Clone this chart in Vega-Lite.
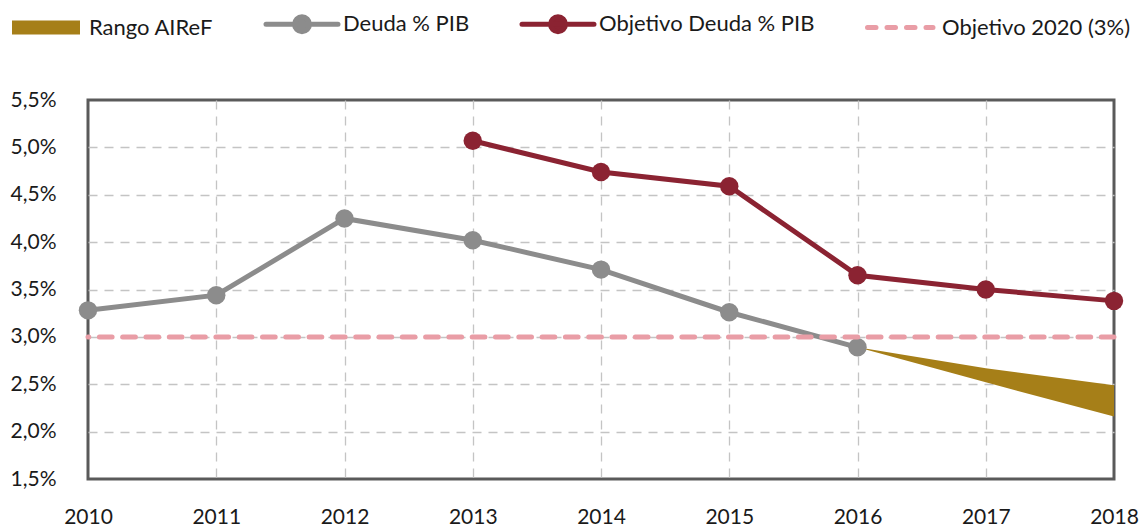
{
  "$schema": "https://vega.github.io/schema/vega-lite/v6.json",
  "width": 1026,
  "height": 379,
  "autosize": {"type": "none"},
  "padding": {"left": 88, "top": 100, "right": 27, "bottom": 48},
  "background": "white",
  "config": {
    "font": "Lato",
    "view": {"stroke": "#5a5a5a", "strokeWidth": 3},
    "axis": {
      "labelFont": "Lato",
      "labelFontSize": 21,
      "labelColor": "#1a1a1a",
      "ticks": false,
      "domain": false,
      "grid": true,
      "gridColor": "#c4c4c4",
      "gridDash": [9, 7],
      "gridWidth": 1.3,
      "title": null
    }
  },
  "datasets": {
    "rango": [
      {"year": 2016, "serie": "Rango AIReF", "low": 2.89, "high": 2.89},
      {"year": 2017, "serie": "Rango AIReF", "low": 2.52, "high": 2.67},
      {"year": 2018, "serie": "Rango AIReF", "low": 2.16, "high": 2.49}
    ],
    "lines": [
      {"year": 2010, "serie": "Deuda % PIB", "value": 3.28},
      {"year": 2011, "serie": "Deuda % PIB", "value": 3.44},
      {"year": 2012, "serie": "Deuda % PIB", "value": 4.25},
      {"year": 2013, "serie": "Deuda % PIB", "value": 4.02},
      {"year": 2014, "serie": "Deuda % PIB", "value": 3.71},
      {"year": 2015, "serie": "Deuda % PIB", "value": 3.26},
      {"year": 2016, "serie": "Deuda % PIB", "value": 2.89},
      {"year": 2013, "serie": "Objetivo Deuda % PIB", "value": 5.07},
      {"year": 2014, "serie": "Objetivo Deuda % PIB", "value": 4.74},
      {"year": 2015, "serie": "Objetivo Deuda % PIB", "value": 4.59},
      {"year": 2016, "serie": "Objetivo Deuda % PIB", "value": 3.65},
      {"year": 2017, "serie": "Objetivo Deuda % PIB", "value": 3.5},
      {"year": 2018, "serie": "Objetivo Deuda % PIB", "value": 3.38}
    ],
    "objetivo2020": [
      {"serie": "Objetivo 2020 (3%)", "value": 3}
    ]
  },
  "encoding": {
    "color": {
      "field": "serie",
      "type": "nominal",
      "scale": {
        "domain": ["Rango AIReF", "Deuda % PIB", "Objetivo Deuda % PIB", "Objetivo 2020 (3%)"],
        "range": ["#A67F18", "#8C8C8C", "#8B2332", "#E99DA6"]
      },
      "legend": {
        "title": null,
        "orient": "none",
        "direction": "horizontal",
        "legendX": -77,
        "legendY": -87,
        "columnPadding": 42,
        "symbolSize": 400,
        "labelOffset": 56,
        "labelFont": "Lato",
        "labelFontSize": 22,
        "labelColor": "#1a1a1a",
        "labelLimit": 400,
        "encode": {
          "symbols": {
            "update": {
              "shape": {"signal": "datum.value == 'Rango AIReF' ? 'M-1,-0.7H5.8V0.7H-1Z' : (datum.value == 'Objetivo 2020 (3%)' ? 'M-0.75,0H5.8' : 'M-1,0H6.2M1.85,0A0.75,0.75 0 1,0 3.35,0A0.75,0.75 0 1,0 1.85,0Z')"},
              "fill": {"signal": "datum.value == 'Objetivo 2020 (3%)' ? 'transparent' : (datum.value == 'Rango AIReF' ? '#A67F18' : (datum.value == 'Deuda % PIB' ? '#8C8C8C' : '#8B2332'))"},
              "stroke": {"signal": "datum.value == 'Rango AIReF' ? 'transparent' : (datum.value == 'Objetivo 2020 (3%)' ? '#E99DA6' : (datum.value == 'Deuda % PIB' ? '#8C8C8C' : '#8B2332'))"},
              "strokeWidth": {"signal": "datum.value == 'Rango AIReF' ? 0 : 5"},
              "strokeDash": {"signal": "datum.value == 'Objetivo 2020 (3%)' ? [8.5, 11] : []"},
              "strokeCap": {"value": "round"},
              "opacity": {"value": 1},
              "fillOpacity": {"value": 1},
              "size": {"value": 400}
            }
          }
        }
      }
    }
  },
  "layer": [
    {
      "data": {"name": "rango"},
      "mark": {"type": "area", "opacity": 1},
      "encoding": {
        "x": {
          "field": "year",
          "type": "quantitative",
          "scale": {"domain": [2010, 2018], "nice": false, "zero": false},
          "axis": {
            "values": [2010, 2011, 2012, 2013, 2014, 2015, 2016, 2017, 2018],
            "format": "d",
            "labelPadding": 27,
            "labelBaseline": "top",
            "labelDx": -3,
            "labelFlush": false,
            "labelOverlap": false,
            "gridOpacity": {"condition": {"test": "datum.value <= 2010 || datum.value >= 2018", "value": 0}, "value": 1}
          }
        },
        "y": {
          "field": "high",
          "type": "quantitative",
          "scale": {"domain": [1.5, 5.5], "nice": false, "zero": false},
          "axis": {
            "values": [1.5, 2, 2.5, 3, 3.5, 4, 4.5, 5, 5.5],
            "labelExpr": "replace(format(datum.value, '.1f'), '.', ',') + '%'",
            "labelPadding": 32,
            "labelFlush": false,
            "labelOverlap": false,
            "gridOpacity": {"condition": {"test": "datum.value <= 1.5 || datum.value >= 5.5", "value": 0}, "value": 1}
          }
        },
        "y2": {"field": "low"}
      }
    },
    {
      "data": {"name": "lines"},
      "mark": {"type": "line", "strokeWidth": 5, "clip": false},
      "encoding": {
        "x": {"field": "year", "type": "quantitative"},
        "y": {"field": "value", "type": "quantitative"},
        "detail": {"field": "serie"}
      }
    },
    {
      "data": {"name": "lines"},
      "mark": {"type": "point", "filled": true, "opacity": 1, "size": 340, "shape": "circle", "clip": false},
      "encoding": {
        "x": {"field": "year", "type": "quantitative"},
        "y": {"field": "value", "type": "quantitative"}
      }
    },
    {
      "data": {"name": "objetivo2020"},
      "mark": {"type": "rule", "strokeWidth": 5, "strokeDash": [12.7, 10.6], "strokeCap": "round"},
      "encoding": {
        "y": {"field": "value", "type": "quantitative"}
      }
    }
  ]
}
